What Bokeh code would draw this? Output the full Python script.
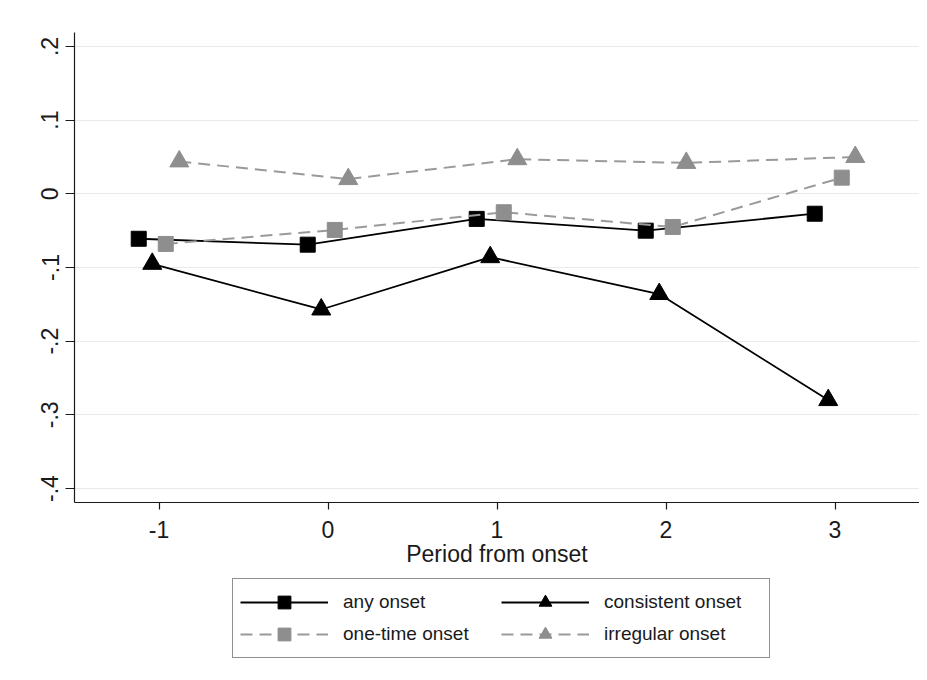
from bokeh.plotting import figure
from bokeh.layouts import column
from bokeh.models import (ColumnDataSource, Range1d, FixedTicker, Legend, LegendItem)
from bokeh.transform import dodge
from bokeh.embed import file_html
from bokeh.resources import INLINE

# ---- data ----
period = [-1, 0, 1, 2, 3]
any_onset = [-0.061, -0.069, -0.034, -0.050, -0.027]
consistent_onset = [-0.095, -0.157, -0.086, -0.136, -0.280]
one_time_onset = [-0.068, -0.049, -0.025, -0.045, 0.022]
irregular_onset = [0.044, 0.020, 0.047, 0.042, 0.050]

x_ticks = [-1, 0, 1, 2, 3]
x_tick_labels = ["-1", "0", "1", "2", "3"]
y_ticks = [-0.4, -0.3, -0.2, -0.1, 0.0, 0.1, 0.2]
y_tick_labels = ["-.4", "-.3", "-.2", "-.1", "0", ".1", ".2"]

series_labels = ["any onset", "consistent onset", "one-time onset", "irregular onset"]
x_axis_title = "Period from onset"

src = ColumnDataSource(dict(period=period, any=any_onset, consistent=consistent_onset,
                            onetime=one_time_onset, irregular=irregular_onset))

FONT = "Liberation Sans"
BLACK = "#000000"
GRAY = "#8e8e8e"
GRAY_LINE = "#9a9a9a"

styles = {
    "any": dict(line=dict(line_color=BLACK, line_width=1.8),
                mark=dict(marker="square", size=15, fill_color=BLACK, line_color=BLACK)),
    "consistent": dict(line=dict(line_color=BLACK, line_width=1.8),
                       mark=dict(marker="triangle", size=19, fill_color=BLACK, line_color=BLACK)),
    "onetime": dict(line=dict(line_color=GRAY_LINE, line_width=2, line_dash="12 7"),
                    mark=dict(marker="square", size=15, fill_color=GRAY, line_color=GRAY)),
    "irregular": dict(line=dict(line_color=GRAY_LINE, line_width=2, line_dash="12 7"),
                      mark=dict(marker="triangle", size=19, fill_color=GRAY, line_color=GRAY)),
}
offsets = {"any": -0.12, "consistent": -0.04, "onetime": 0.04, "irregular": 0.12}
keys = ["any", "consistent", "onetime", "irregular"]

# ---------------- main plot ----------------
p = figure(frame_width=845, frame_height=470,
           x_range=Range1d(-1.5, 3.5), y_range=Range1d(-0.419, 0.219),
           output_backend="svg", toolbar_location=None,
           min_border_left=74, min_border_right=0, min_border_top=32, min_border_bottom=75)
p.outline_line_color = None
p.background_fill_color = "white"
p.border_fill_color = "white"

p.xaxis.ticker = FixedTicker(ticks=x_ticks)
p.xaxis.major_label_overrides = {t: l for t, l in zip(x_ticks, x_tick_labels)}
p.yaxis.ticker = FixedTicker(ticks=y_ticks)
p.yaxis.major_label_overrides = {t: l for t, l in zip(y_ticks, y_tick_labels)}
p.yaxis.major_label_orientation = "vertical"
for ax in (p.xaxis[0], p.yaxis[0]):
    ax.axis_line_color = "#1a1a1a"
    ax.axis_line_width = 1.2
    ax.major_tick_line_color = "#1a1a1a"
    ax.major_tick_line_width = 1.2
    ax.major_tick_in = 0
    ax.minor_tick_line_color = None
    ax.major_label_text_font = FONT
    ax.major_label_text_font_size = "23px"
    ax.major_label_text_color = "#1a1a1a"
p.xaxis.major_tick_out = 7
p.yaxis.major_tick_out = 9
p.xaxis.major_label_standoff = 11
p.yaxis.major_label_standoff = 7
p.xaxis.axis_label = x_axis_title
p.xaxis.axis_label_text_font = FONT
p.xaxis.axis_label_text_font_size = "23px"
p.xaxis.axis_label_text_font_style = "normal"
p.xaxis.axis_label_text_color = "#1a1a1a"
p.xaxis.axis_label_standoff = 0

p.xgrid.grid_line_color = None
p.ygrid.grid_line_color = "#e9e9e9"
p.ygrid.grid_line_width = 1.2

for key in keys:
    xs = dodge("period", offsets[key])
    p.line(xs, key, source=src, **styles[key]["line"])
    p.scatter(xs, key, source=src, **styles[key]["mark"])

# ---------------- legend strip below the plot ----------------
# same series, drawn in a strip whose y range shows none of them, so only the legend keys appear
p2 = figure(frame_width=845, frame_height=90,
            x_range=Range1d(-1.5, 3.5), y_range=Range1d(5, 6),
            output_backend="svg", toolbar_location=None,
            x_axis_type=None, y_axis_type=None,
            min_border_left=74, min_border_right=0, min_border_top=0, min_border_bottom=0)
p2.outline_line_color = None
p2.xgrid.grid_line_color = None
p2.ygrid.grid_line_color = None
p2.border_fill_color = "white"
p2.background_fill_color = "white"

key_renderers = {}
for key in keys:
    xs = dodge("period", offsets[key])
    lr = p2.line(xs, key, source=src, **styles[key]["line"])
    mr = p2.scatter(xs, key, source=src, **styles[key]["mark"])
    key_renderers[key] = [lr, mr]

items = [
    LegendItem(label=series_labels[0], renderers=key_renderers["any"]),
    LegendItem(label=series_labels[2], renderers=key_renderers["onetime"]),
    LegendItem(label=series_labels[1], renderers=key_renderers["consistent"]),
    LegendItem(label=series_labels[3], renderers=key_renderers["irregular"]),
]
legend = Legend(items=items, ncols=2, location=(158, 9),
                label_text_font=FONT, label_text_font_size="19px", label_text_color="#1a1a1a",
                glyph_width=88, glyph_height=32, spacing=0, padding=7,
                label_standoff=15, label_width=158, margin=0,
                border_line_color="#222222", border_line_width=1.2,
                background_fill_color="white", background_fill_alpha=1.0)
p2.add_layout(legend, "center")

layout = column(p, p2, spacing=0)
open("out.html", "w").write(file_html(layout, INLINE))
